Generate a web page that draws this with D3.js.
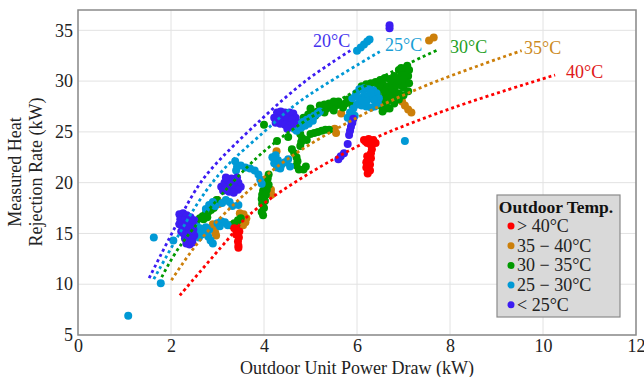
<!DOCTYPE html>
<html><head><meta charset="utf-8">
<script src="https://cdn.jsdelivr.net/npm/d3@7"></script>
<style>body{margin:0;background:#fff}svg{display:block}</style>
</head><body>
<script>
// ---------- DATA ----------
const xTicks = [0,2,4,6,8,10,12];
const yTicks = [5,10,15,20,25,30,35];
const categories = ["> 40°C","35 − 40°C","30 − 35°C","25 − 30°C","< 25°C"];
const catColors = ["#ff0000","#cc7f0a","#009a00","#0099d5","#3c1cf2"];

const ptsOver40 = [[3.36,15.5],[3.42,15.3],[3.47,15.2],[3.4,14.9],[3.46,14.6],[3.44,14.2],[3.45,13.8],[3.45,13.6],
 [6.15,24.2],[6.25,24.3],[6.35,24.2],[6.4,23.9],[6.3,23.7],[6.22,23.9],[6.32,23.3],[6.3,22.9],[6.22,22.6],[6.3,22.4],[6.2,22.0],[6.28,21.8],[6.2,21.5],[6.28,21.2],[6.23,20.9]];
const pts35to40 = [[2.9,15.9],[2.93,15.5],[2.95,15.1],[2.97,14.8],[3.0,18.3],[3.03,17.9],
 [3.48,17.0],[3.56,16.9],[3.62,16.5],[3.6,16.1],[3.55,15.8],[4.15,19.3],[4.16,18.8],[4.27,23.1],
 [5.52,25.3],[5.55,24.9],[5.66,26.8],[6.97,28.0],[7.03,27.6],[7.1,27.2],[7.17,26.9],[7.55,34.0],[7.65,34.3],[6.5,29.9]];
const pts30to35 = [[2.62,16.5],[2.68,16.7],[2.74,16.9],[2.8,17.1],[2.86,17.3],[2.92,17.5],[2.7,16.4],[2.78,16.6],[2.88,17.8],[2.95,17.9],[2.98,18.3],
 [3.28,15.8],[3.36,16.0],[3.44,16.3],[3.5,16.5],[3.4,15.7],
 [4.1,20.8],[4.08,20.4],[4.05,20.0],[4.02,19.6],[3.98,19.2],[4.06,19.3],[3.96,18.8],[4.04,18.8],[3.95,18.4],[4.02,18.2],[3.96,17.9],[4.0,17.5],[3.95,17.1],[3.98,16.8],[4.1,19.8],
 [4.6,23.3],[4.65,22.9],[4.7,22.5],[4.72,22.1],[4.7,21.7],[4.75,21.3],[4.85,21.3],[4.9,21.6],[4.78,23.6],[4.8,24.0],[4.82,24.4],[4.78,24.8],
 [4.0,25.7],[4.28,24.1],[4.52,24.5],
 [5.0,24.8],[5.08,24.9],[5.16,25.0],[5.24,25.1],[5.32,25.2],[5.4,25.2],[4.92,24.2],
 [4.85,26.4],[4.95,26.7],[5.05,26.9],[5.15,27.0],[5.25,27.2],[5.35,27.3],[5.45,27.5],[5.55,27.6],[5.65,27.7],[5.75,27.8],[5.85,28.0],
 [5.0,27.3],[5.2,27.6],[5.4,27.8],[5.6,28.0],
 [5.1,26.6],[5.3,26.9],[5.5,27.1],[5.7,27.4],[5.9,27.6],[5.8,28.2],[5.5,28.0],[5.3,27.7],
 [6.1,29.5],[6.2,29.7],[6.3,29.8],[6.4,29.9],[6.5,30.1],[6.6,30.3],[6.45,29.4],[6.55,29.7],
 [6.35,28.6],[6.45,28.9],[6.55,29.2],[6.65,29.5],[6.75,29.8],[6.85,30.1],[6.95,30.5],[7.0,30.9],[7.05,31.3],[7.08,31.5],[6.9,31.1],[7.1,30.5],[7.05,30.0],[6.95,29.6],[6.8,29.2],[6.7,28.8],[6.6,28.5],[6.5,28.2],[6.6,27.6],[6.7,27.3],[6.8,27.8],[6.9,28.2],[7.0,28.6],[7.1,29.0],[6.55,27.0],[6.9,28.8],
 [6.45,28.0],[6.6,29.0],[6.75,29.3],[6.85,29.6],[6.9,30.0],[7.0,30.2],[6.8,30.5],[7.12,31.1],[6.95,31.3],[6.7,30.2],[6.65,28.0],[6.75,28.4],[6.85,28.7],[7.0,29.4],[7.12,29.8],[6.62,27.3],[6.5,27.6]];
const pts25to30 = [[1.08,6.9],[1.63,14.6],[1.78,10.1],[2.05,14.3],[7.03,24.1],
 [2.55,15.8],[2.62,15.5],[2.7,15.3],[2.58,15.1],[2.66,14.9],[2.75,15.0],[2.8,14.7],[2.85,14.3],[2.9,14.0],[2.75,15.6],[2.82,15.4],[2.6,14.6],[2.5,15.4],
 [2.75,17.4],[2.82,17.8],[2.9,18.1],[2.95,17.7],[3.1,18.0],[3.18,18.3],[3.26,18.1],[3.32,17.7],[3.45,17.8],
 [3.0,16.0],[3.08,16.2],[3.16,16.1],[3.22,15.8],[3.05,15.7],
 [3.38,22.1],[3.42,21.6],[3.5,21.7],[3.6,21.5],[3.7,21.4],[3.8,21.2],[3.88,20.8],[3.92,20.3],[3.95,19.9],[3.4,21.2],
 [4.18,22.5],[4.25,22.7],[4.3,22.2],[4.22,21.9],[4.38,21.8],[4.45,22.0],[4.52,22.3],[4.56,21.6],[4.35,21.4],[4.28,21.5],
 [4.65,25.3],[4.72,25.6],[4.78,25.9],[4.85,26.0],[4.92,26.2],[5.0,26.4],[5.08,26.6],[5.15,26.8],[5.2,27.0],[4.7,25.1],[4.8,25.4],[4.88,25.6],[4.96,25.8],[5.05,26.1],
 [5.98,28.8],[6.05,29.2],[6.15,29.3],[6.25,29.2],[6.35,29.1],[6.42,28.8],[6.47,28.3],[6.45,27.8],[6.38,27.5],[6.3,27.4],[6.2,27.5],[6.1,27.6],[6.0,27.7],[6.05,28.3],[6.15,28.6],[6.25,28.4],[6.35,28.2],[6.2,28.0],[6.1,28.1],[5.92,27.3],[5.85,26.9],[5.8,26.4],[5.88,26.0],[5.95,26.6],[6.3,28.8],[5.9,28.3],
 [6.0,33.0],[6.08,33.3],[6.15,33.6],[6.22,33.9],[6.27,34.1]];
const ptsUnder25 = [[2.18,16.9],[2.26,17.0],[2.34,16.8],[2.42,16.6],[2.5,16.3],[2.2,16.4],[2.28,16.3],[2.36,16.2],[2.45,16.0],[2.18,15.9],[2.25,15.6],[2.32,15.5],[2.4,15.6],[2.48,15.4],[2.27,15.0],[2.35,14.9],[2.43,15.0],[2.5,14.8],[2.3,14.5],[2.38,14.4],[2.46,14.5],[2.33,14.0],[2.4,13.9],[2.46,14.1],[2.22,15.2],
 [3.08,19.6],[3.15,20.0],[3.22,20.3],[3.3,20.4],[3.38,20.3],[3.45,20.0],[3.5,19.6],[3.12,19.2],[3.2,19.5],[3.28,19.8],[3.36,19.6],[3.44,19.3],[3.25,19.1],[3.35,19.0],[3.18,20.5],[3.42,20.5],
 [4.22,26.4],[4.28,26.9],[4.36,27.0],[4.45,26.9],[4.55,26.9],[4.63,26.8],[4.68,26.4],[4.3,26.3],[4.4,26.4],[4.5,26.3],[4.6,26.2],[4.35,25.8],[4.45,25.7],[4.55,25.6],[4.65,25.8],[4.5,25.3],[4.25,25.9],
 [5.92,26.3],[5.9,25.9],[5.87,25.5],[5.85,25.1],[5.83,24.7],[5.8,23.8],[5.72,22.9],[5.65,22.6],[5.6,22.3],
 [6.7,35.2],[6.7,35.5]];

// reference curves
const curve20 = [[1.53,10.6],[2.48,18.9],[2.84,21.2],[3.91,26.1],[4.92,30.1],[5.89,33.1]];
const curve25 = [[1.63,10.5],[2.62,18.3],[3.13,21.3],[4.0,25.0],[4.77,28.0],[6.49,32.9]];
const curve30 = [[1.80,10.7],[2.2,13.8],[3.63,21.5],[4.42,24.6],[5.5,27.8],[6.92,31.3],[7.75,33.1]];
const curve35 = [[2.01,10.4],[2.6,14.2],[3.5,18.5],[4.5,22.3],[6.0,26.4],[7.5,29.6],[9.54,33.0]];
const curve40 = [[2.19,8.9],[3.2,14.3],[3.7,16.9],[5.85,23.2],[7.71,26.8],[10.26,30.6]];
const curveLabels = ["20°C","25°C","30°C","35°C","40°C"];
const curveColors = ["#3c1cf2","#0099d5","#009a00","#cc7f0a","#ff0000"];
const labelColors = ["#4433ee","#1a9fd6","#1f9f1f","#cc8a22","#e01818"];

// ---------- CHART ----------
const W=644,H=377, L=78,R=636,T=10,B=335;
const svg=d3.select("body").append("svg").attr("width",W).attr("height",H);
const x=d3.scaleLinear().domain([0,12]).range([L,R]);
const y=d3.scaleLinear().domain([5,37]).range([B,T]);
const serif="'Liberation Serif','Times New Roman',serif";

// grid
svg.append("g").selectAll("line").data(xTicks).join("line")
 .attr("x1",d=>x(d)).attr("x2",d=>x(d)).attr("y1",T).attr("y2",B)
 .attr("stroke","#e2e2e2").attr("stroke-width",1);
svg.append("g").selectAll("line").data(yTicks).join("line")
 .attr("y1",d=>y(d)).attr("y2",d=>y(d)).attr("x1",L).attr("x2",R)
 .attr("stroke","#e2e2e2").attr("stroke-width",1);

// axes (labels only)
const xa=svg.append("g").attr("transform",`translate(0,${B})`)
 .call(d3.axisBottom(x).tickValues(xTicks).tickSize(0).tickPadding(4));
const ya=svg.append("g").attr("transform",`translate(${L},0)`)
 .call(d3.axisLeft(y).tickValues(yTicks).tickSize(0).tickPadding(5));
[xa,ya].forEach(a=>{a.select(".domain").remove();
 a.attr("font-family",serif).attr("font-size",18);
 a.selectAll("text").attr("font-family",serif).attr("font-size",18).attr("fill","#222");});

// points
const series=[pts35to40,pts30to35,pts25to30,ptsUnder25,ptsOver40];
const seriesCol=[catColors[1],catColors[2],catColors[3],catColors[4],catColors[0]];
series.forEach((s,i)=>{
 svg.append("g").selectAll("circle").data(s).join("circle")
  .attr("cx",d=>x(d[0])).attr("cy",d=>y(d[1])).attr("r",4).attr("fill",seriesCol[i]);
});

// curves
const line=d3.line().x(d=>x(d[0])).y(d=>y(d[1])).curve(d3.curveCatmullRom);
[curve20,curve25,curve30,curve35,curve40].forEach((c,i)=>{
 svg.append("path").attr("d",line(c)).attr("fill","none")
  .attr("stroke",curveColors[i]).attr("stroke-width",2.8).attr("stroke-dasharray","3,3");
});
// curve labels
const labPos=[[313,47],[385,51],[450,53],[524,54],[566,78]];
curveLabels.forEach((t,i)=>{
 svg.append("text").attr("x",labPos[i][0]).attr("y",labPos[i][1]).text(t)
  .attr("font-family",serif).attr("font-size",18).attr("fill",labelColors[i]);
});

// frame
svg.append("rect").attr("x",L).attr("y",T).attr("width",R-L).attr("height",B-T)
 .attr("fill","none").attr("stroke","#8a8a8a").attr("stroke-width",1.5);

// axis titles
svg.append("text").attr("x",(L+R)/2).attr("y",374).attr("text-anchor","middle")
 .attr("font-family",serif).attr("font-size",18).attr("fill","#222").text("Outdoor Unit Power Draw (kW)");
const yt=svg.append("text").attr("transform","translate(0,172) rotate(-90)")
 .attr("text-anchor","middle").attr("font-family",serif).attr("font-size",18).attr("fill","#222");
yt.append("tspan").attr("x",0).attr("y",21).text("Measured Heat");
yt.append("tspan").attr("x",0).attr("y",42).text("Rejection Rate (kW)");

// legend
const lg=svg.append("g");
lg.append("rect").attr("x",497).attr("y",195).attr("width",123).attr("height",122)
 .attr("fill","#d9d9d9").attr("stroke","#8a8a8a").attr("stroke-width",1.2);
lg.append("text").attr("x",556).attr("y",213).attr("text-anchor","middle")
 .attr("font-family",serif).attr("font-size",17.5).attr("font-weight","bold").attr("fill","#111").text("Outdoor Temp.");
categories.forEach((c,i)=>{
 const yy=226+i*19.7;
 lg.append("circle").attr("cx",511).attr("cy",yy).attr("r",3.5).attr("fill",catColors[i]);
 lg.append("text").attr("x",517).attr("y",yy+6).text(c)
  .attr("font-family",serif).attr("font-size",18).attr("fill","#222");
});
</script>
</body></html>
